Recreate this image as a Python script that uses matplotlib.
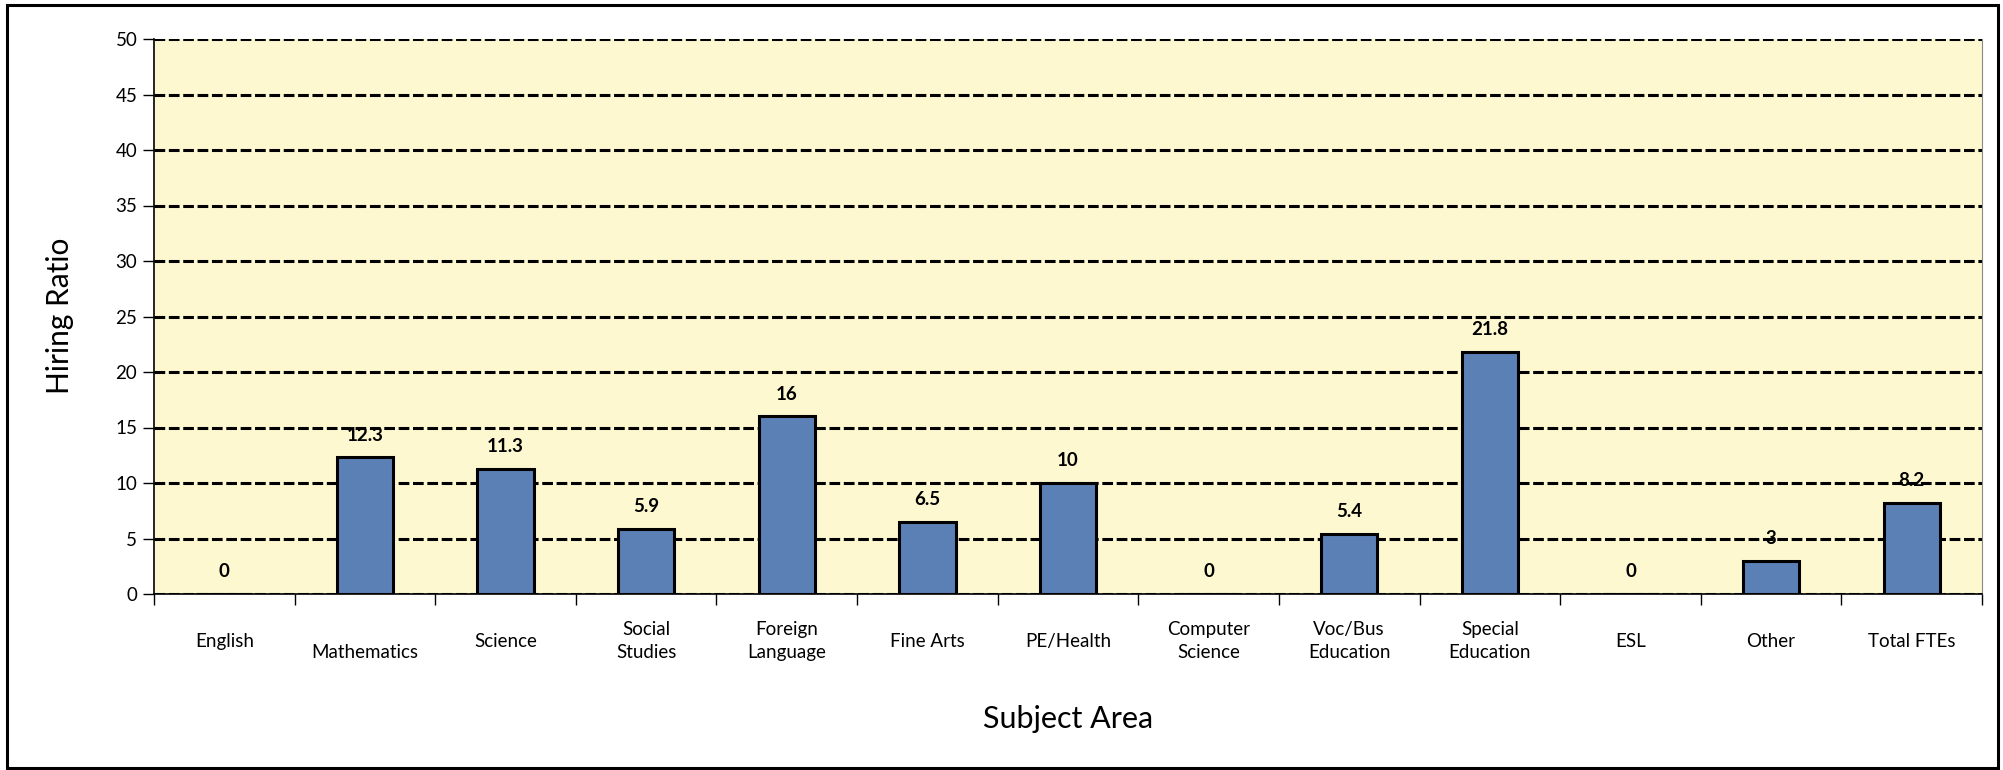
import matplotlib
matplotlib.use("Agg")
import matplotlib.pyplot as plt
from matplotlib.patches import Rectangle
import numpy as np

subjects = ["English", "\nMathematics", "Science", "Social\nStudies", "Foreign\nLanguage",
            "Fine Arts", "PE/Health", "Computer\nScience", "Voc/Bus\nEducation",
            "Special\nEducation", "ESL", "Other", "Total FTEs"]
ratios = [0, 12.3, 11.3, 5.9, 16, 6.5, 10, 0, 5.4, 21.8, 0, 3, 8.2]
value_labels = ["0", "12.3", "11.3", "5.9", "16", "6.5", "10", "0", "5.4", "21.8", "0", "3", "8.2"]
y_ticks = [0, 5, 10, 15, 20, 25, 30, 35, 40, 45, 50]

plt.rcParams['font.family'] = ['Lato', 'DejaVu Sans']

fig = plt.figure(figsize=(20.03, 7.70), dpi=100)
ax = fig.add_axes([154 / 2003, 1 - 594 / 770, (1982 - 154) / 2003, (594 - 39) / 770])
ax.set_facecolor('#FDF8CF')

x = np.arange(len(subjects))
# dashed black gridlines, drawn under the bars
for yt in y_ticks:
    ax.axhline(yt, color='black', lw=2.2, linestyle=(0, (3.5, 1.2)), zorder=1)

bars = ax.bar(x, ratios, width=0.4, color='#5B80B5', edgecolor='black', linewidth=2.2, zorder=3)
for xi, v, lab in zip(x, ratios, value_labels):
    ax.annotate(lab, (xi, v), xytext=(0, 16), textcoords='offset points',
                ha='center', va='center', fontsize=13.5, fontweight='bold', zorder=4)

ax.set_xlim(-0.5, len(subjects) - 0.5)
ax.set_ylim(0, 50)
ax.set_yticks(y_ticks)
ax.tick_params(axis='y', labelsize=13.5, length=8, width=1, pad=4)

ax.set_xticks(np.arange(len(subjects) + 1) - 0.5)
ax.set_xticklabels([])
ax.tick_params(axis='x', which='major', length=8, width=1, direction='out')
ax.set_xticks(x, minor=True)
ax.set_xticklabels(subjects, minor=True, fontsize=13.5, va='center', linespacing=1.45)
ax.tick_params(axis='x', which='minor', length=0, pad=34)

ax.spines['top'].set_visible(False)
ax.spines['right'].set_color('#888888')
ax.spines['left'].set_linewidth(1.2)
ax.spines['bottom'].set_linewidth(1.2)

fig.text(60 / 2003, 1 - 316 / 770, "Hiring Ratio", rotation=90, ha='center', va='center', fontsize=21.5)
fig.text((154 + 1982) / 2 / 2003, 1 - 719 / 770, "Subject Area", ha='center', va='center', fontsize=22)

fig.patches.append(Rectangle((7 / 2003, 2 / 770), (1998 - 7) / 2003, (765 - 2) / 770,
                             transform=fig.transFigure, fill=False, edgecolor='black', linewidth=2.2))

fig.savefig("out.png", dpi=100)
